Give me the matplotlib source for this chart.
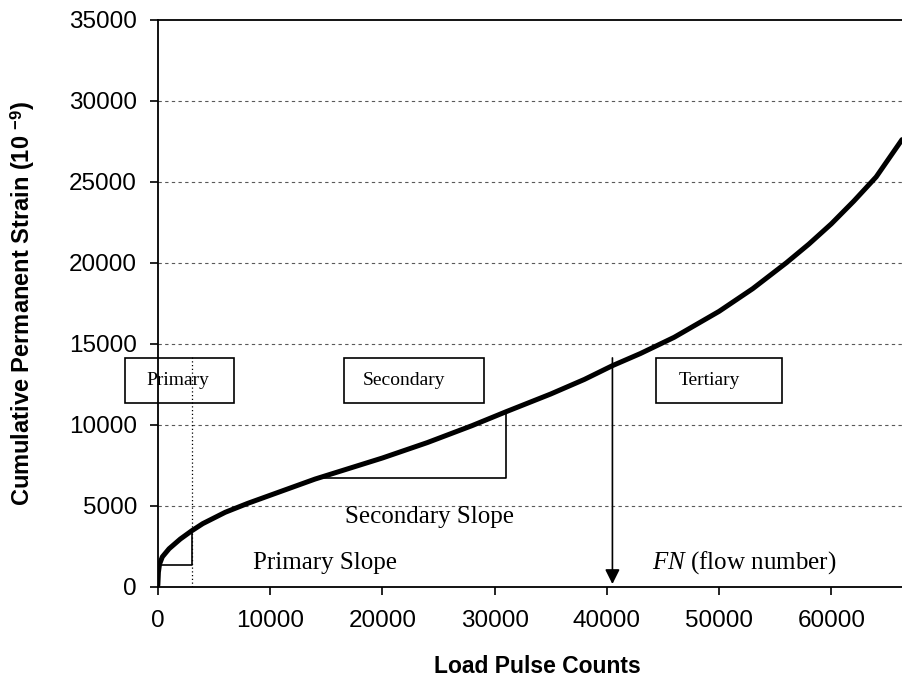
import numpy as np
import matplotlib.pyplot as plt
from matplotlib.patches import Rectangle

# data
pulses = [0, 50, 150, 400, 1000, 2000, 3000, 4000, 6000, 8000, 10000, 12000, 14000,
          17000, 20000, 24000, 28000, 31000, 35000, 38000, 40500, 43000, 46000,
          50000, 53000, 56000, 58000, 60000, 61000, 62000, 63000, 64000, 65000, 66300]
strain = [100, 900, 1400, 1850, 2350, 2950, 3450, 3900, 4600, 5150, 5650, 6150, 6650,
          7300, 7950, 8900, 9950, 10800, 11900, 12800, 13650, 14400, 15400,
          17000, 18400, 20000, 21150, 22400, 23100, 23800, 24550, 25300, 26300, 27600]

yticks = [0, 5000, 10000, 15000, 20000, 25000, 30000, 35000]
xticks = [0, 10000, 20000, 30000, 40000, 50000, 60000]

flow_number = 40500
primary_end = 3000
primary_base = 1350
secondary_start = 14000
secondary_end = 31000
secondary_base = 6700

stage_names = ["Primary", "Secondary", "Tertiary"]
stage_boxes = [(-2900, 6800), (16600, 29100), (44400, 55600)]
stage_text_x = [1800, 21900, 49100]

plt.rcParams['font.family'] = ['Liberation Sans', 'DejaVu Sans']
plt.rcParams['mathtext.fontset'] = 'custom'
plt.rcParams['mathtext.it'] = 'Liberation Serif:italic'
plt.rcParams['mathtext.rm'] = 'Liberation Sans'
plt.rcParams['mathtext.bf'] = 'Liberation Sans:bold'

fig = plt.figure(figsize=(9.02, 6.8), dpi=100)
ax = fig.add_axes([0.175, 0.137, 0.825, 0.834])
ax.set_xlim(0, 66300)
ax.set_ylim(0, 35000)

for y in yticks[1:-1]:
    ax.axhline(y, color='0.35', lw=0.8, ls=(0, (3, 3)), zorder=1)

ax.plot(pulses, strain, color='black', lw=3.6, zorder=5, solid_capstyle='round',
        solid_joinstyle='round')

# primary slope triangle
y3 = np.interp(primary_end, pulses, strain)
ax.plot([0, primary_end, primary_end], [primary_base, primary_base, y3], color='black', lw=1.2, zorder=4)
ax.plot([primary_end, primary_end], [0, 14300], color='black', lw=0.9, ls=(0, (1, 2)), zorder=3)

# secondary slope triangle
y31 = np.interp(secondary_end, pulses, strain)
ax.plot([secondary_start, secondary_end, secondary_end], [secondary_base, secondary_base, y31],
        color='black', lw=1.2, zorder=4)

# flow number arrow
ax.annotate('', xy=(flow_number, 0), xytext=(flow_number, 14300),
            arrowprops=dict(arrowstyle='-|>', color='black', lw=1.2, mutation_scale=22),
            zorder=6, annotation_clip=False)

for name, (x0, x1), tx in zip(stage_names, stage_boxes, stage_text_x):
    ax.add_patch(Rectangle((x0, 11350), x1 - x0, 2780, fill=False, ec='black', lw=1.2,
                           clip_on=False, zorder=6))
    ax.text(tx, 12750, name, ha='center', va='center', fontsize=14,
            family='Liberation Serif', zorder=7)

ax.text(24200, 4300, 'Secondary Slope', ha='center', va='center', fontsize=18,
        family='Liberation Serif')
ax.text(14900, 1500, 'Primary Slope', ha='center', va='center', fontsize=18,
        family='Liberation Serif')
ax.text(52200, 1500, r'$FN$ (flow number)', ha='center', va='center', fontsize=18,
        family='Liberation Serif')

ax.set_xticks(xticks)
ax.set_yticks(yticks)
ax.tick_params(labelsize=17.5, length=6, width=1.2)
ax.tick_params(axis='x', pad=11)
ax.tick_params(axis='y', pad=9)
ax.spines['right'].set_visible(False)
for s in ['left', 'bottom', 'top']:
    ax.spines[s].set_linewidth(1.3)

ax.set_xlabel('Load Pulse Counts', fontsize=16.5, fontweight='bold')
ax.xaxis.set_label_coords(0.51, -0.12)
ax.set_ylabel(r'Cumulative Permanent Strain (10 $^{\mathbf{-9}}$)', fontsize=17,
              fontweight='bold')
ax.yaxis.set_label_coords(-0.162, 0.5)

fig.savefig('out.png', dpi=100)
